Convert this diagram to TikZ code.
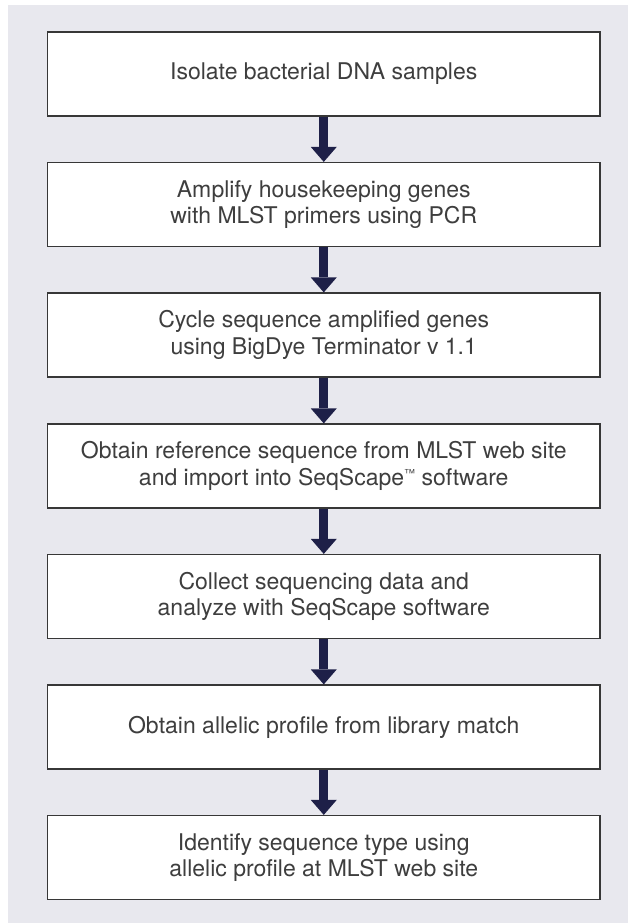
\documentclass[tikz,border=0pt]{standalone}
\usepackage{fontspec}
\setmainfont{TeX Gyre Heros}
\usetikzlibrary{arrows.meta}
\definecolor{panel}{RGB}{232,232,238}
\definecolor{navy}{RGB}{30,32,72}
\definecolor{boxline}{RGB}{55,55,55}
\definecolor{txt}{RGB}{62,62,62}
\newcommand{\tmark}{\raisebox{8pt}{\fontsize{11}{11}\selectfont ™}}
\begin{document}
\begin{tikzpicture}[x=1pt,y=-1pt,
  stepbox/.style={draw=boxline, line width=1.2pt, fill=white,
    minimum width=552.5pt, minimum height=84pt, inner sep=0pt,
    align=center, font=\fontsize{23}{26.5}\selectfont, text=txt},
  flow/.style={draw=navy, line width=9pt,
    -{Triangle[width=26pt,length=15pt,line width=0pt]}}]
\useasboundingbox (0,0) rectangle (628,923);
\fill[white] (0,0) rectangle (628,923);
\fill[panel] (8,5) rectangle (628,923);
\node[stepbox] (s1) at (323.75,74) {Isolate bacterial DNA samples};
\node[stepbox] (s2) at (323.75,204.5) {Amplify housekeeping genes\\with MLST primers using PCR};
\node[stepbox] (s3) at (323.75,335) {Cycle sequence amplified genes\\using BigDye Terminator v 1.1};
\node[stepbox] (s4) at (323.75,466) {Obtain reference sequence from MLST web site\\and import into SeqScape\tmark\ software};
\node[stepbox] (s5) at (323.75,596.5) {Collect sequencing data and\\analyze with SeqScape software};
\node[stepbox] (s6) at (323.75,727) {Obtain allelic profile from library match};
\node[stepbox] (s7) at (323.75,857.5) {Identify sequence type using\\allelic profile at MLST web site};
\draw[flow] (s1) -- (s2);
\draw[flow] (s2) -- (s3);
\draw[flow] (s3) -- (s4);
\draw[flow] (s4) -- (s5);
\draw[flow] (s5) -- (s6);
\draw[flow] (s6) -- (s7);
\end{tikzpicture}
\end{document}
